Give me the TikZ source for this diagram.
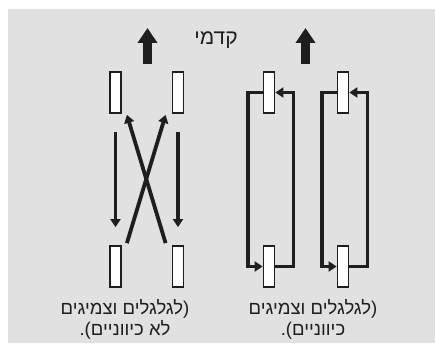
\documentclass[tikz,border=0pt]{standalone}
\usepackage{fontspec}
\newfontfamily\hebfont[Script=Hebrew]{Liberation Sans}
\TeXXeTstate=1
\usepackage{tikz}
\usetikzlibrary{arrows.meta,positioning,calc}
\definecolor{panelgray}{RGB}{225,225,225}
\definecolor{inkgray}{RGB}{30,30,30}

\begin{document}
\begin{tikzpicture}[
  x=1pt, y=1pt,
  every node/.style={font=\hebfont\fontsize{18.5}{21}\selectfont, text=inkgray},
  wheel/.style={draw=inkgray, line width=1.8pt, fill=white,
                minimum width=11pt, minimum height=41pt, inner sep=0pt},
  link/.style={draw=inkgray, line width=3.8pt},
  arrow/.style={link, -{Triangle[width=10pt,length=8pt]}},
  fatarrow/.style={draw=inkgray, line width=9pt,
                   -{Triangle[width=19pt,length=15pt]}},
]
\useasboundingbox (0,0) rectangle (435,343);

%% ── Panel ─────────────────────────────────────────────────────────────────
\fill[panelgray] (8,0) rectangle (435,334);

%% ── Front label and heading arrows ───────────────────────────────────────
\node[font=\hebfont\fontsize{21}{24}\selectfont] (front) at (216,303)
  {\beginR קדמי\endR};
\coordinate (upl) at (147.5,279);
\coordinate (upr) at (305.5,279);
\draw[fatarrow] (upl) -- ++(0,36);
\draw[fatarrow] (upr) -- ++(0,36);

%% ── Left set: non-directional wheels ─────────────────────────────────────
\node[wheel] (wl1) at (115.5,250.5) {};
\node[wheel] (wl2) at (178,  250.5) {};
\node[wheel] (wl3) at (115.5, 76.5) {};
\node[wheel] (wl4) at (178,   76.5) {};

\draw[arrow, shorten <=18pt, shorten >=18pt] (wl1.south) -- (wl3.north);
\draw[arrow, shorten <=18pt, shorten >=18pt] (wl2.south) -- (wl4.north);
\draw[arrow] ([xshift=-6pt,yshift=2pt]wl4.north west)
          -- ([xshift=5pt,yshift=-1pt]wl1.south east);
\draw[arrow] ([xshift=5pt,yshift=2pt]wl3.north east)
          -- ([xshift=-6pt,yshift=-1pt]wl2.south west);

%% ── Right set: directional wheels ────────────────────────────────────────
\node[wheel] (wr1) at (269,250.5) {};
\node[wheel] (wr2) at (269, 76.5) {};
\node[wheel] (wr3) at (343,250.5) {};
\node[wheel] (wr4) at (343, 76.5) {};

\foreach \t/\b in {wr1/wr2, wr3/wr4} {
  \draw[arrow] (\t.west) -- ++(-15,0) |- (\b.west);
  \draw[arrow] (\b.east) -- ++(18,0) |- (\t.east);
}

%% ── Captions ──────────────────────────────────────────────────────────────
\node[align=center] (capl) at (125,24)
  {\beginR (לגלגלים וצמיגים\endR\\\beginR לא כיווניים).\endR};
\node[align=center] (capr) at (313,24)
  {\beginR (לגלגלים וצמיגים\endR\\\beginR כיווניים).\endR};

\end{tikzpicture}
\end{document}
